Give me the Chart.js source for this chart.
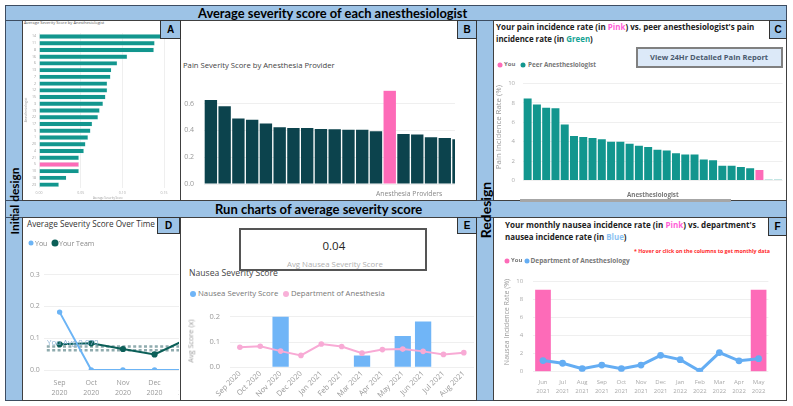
<!DOCTYPE html>
<html>
<head>
<meta charset="utf-8">
<script src="https://cdn.jsdelivr.net/npm/chart.js@4.4.1/dist/chart.umd.min.js"></script>
<style>
  html, body { margin: 0; padding: 0; background: #fff; }
  body { width: 793px; height: 406px; position: relative; overflow: hidden; font-family: 'Open Sans', sans-serif; }
  .box { position: absolute; box-sizing: border-box; }
  .band { background: #9dc3e6; border: 1px solid #3d4d62; }
  .panel { background: #fff; border: 1px solid #404040; }
  .tag { position: absolute; box-sizing: border-box; background: #9dc3e6; border: 1px solid #333; font: bold 10px 'Liberation Sans', Arial, sans-serif; display: flex; align-items: center; justify-content: center; z-index: 5; }
  .t { position: absolute; white-space: nowrap; line-height: 1; transform: translateY(-50%); z-index: 4; }
  .rot { position: absolute; white-space: nowrap; line-height: 1; transform: translate(-50%, -50%) rotate(-90deg); z-index: 4; }
  .dot { position: absolute; border-radius: 50%; transform: translate(-50%, -50%); }
  canvas { position: absolute; }
  .clip { position: absolute; overflow: hidden; }
</style>
</head>
<body>

<!-- frame -->
<div class="box band" style="left:5px;top:5px;width:782px;height:16px;"></div>
<div class="box band" style="left:5px;top:20px;width:18px;height:381px;"></div>
<div class="box band" style="left:476px;top:20px;width:18px;height:381px;"></div>
<div class="box band" style="left:5px;top:200px;width:782px;height:18px;"></div>

<div class="box panel" style="left:22px;top:20px;width:159px;height:181px;"></div>
<div class="box panel" style="left:180px;top:20px;width:297px;height:181px;"></div>
<div class="box panel" style="left:493px;top:20px;width:294px;height:181px;"></div>
<div class="box panel" style="left:22px;top:217px;width:159px;height:184px;"></div>
<div class="box panel" style="left:180px;top:217px;width:297px;height:184px;"></div>
<div class="box panel" style="left:493px;top:217px;width:294px;height:184px;"></div>

<div class="t" style="left:198px;top:13px;font:bold 15px Lato;" data-w="270">Average severity score of each anesthesiologist</div>
<div class="t" style="left:215px;top:209px;font:bold 15px Lato;" data-w="207">Run charts of average severity score</div>
<div class="rot" style="left:13.5px;top:201px;font:bold 14px Lato;" data-w="67">Initial design</div>
<div class="rot" style="left:485px;top:210px;font:bold 14px Lato;" data-w="56">Redesign</div>

<div class="tag" style="left:160px;top:20px;width:21px;height:19px;">A</div>
<div class="tag" style="left:457px;top:20px;width:20px;height:19px;">B</div>
<div class="tag" style="left:769px;top:20px;width:18px;height:19px;">C</div>
<div class="tag" style="left:157px;top:217px;width:23px;height:17px;">D</div>
<div class="tag" style="left:457px;top:217px;width:20px;height:17px;">E</div>
<div class="tag" style="left:768px;top:217px;width:19px;height:19px;">F</div>

<!-- panel A -->
<div class="t" style="left:24px;top:23px;font-size:4px;color:#555;" data-w="80">Average Severity Score by Anesthesiologist</div>
<div class="rot" style="left:27px;top:110px;font-size:3.5px;color:#999;" data-w="25">Anesthesiologist</div>
<div class="t" style="left:93px;top:197.5px;font-size:3.5px;color:#999;" data-w="30">Average Severity Score</div>
<canvas id="chartA" width="156" height="172" style="left:22px;top:28px;"></canvas>

<!-- panel B -->
<div class="t" style="left:183px;top:66px;font-size:9px;color:#444;" data-w="152">Pain Severity Score by Anesthesia Provider</div>
<div class="clip" style="left:182px;top:76px;width:273px;height:124px;">
  <canvas id="chartB" width="284" height="124" style="left:0;top:0;"></canvas>
</div>
<div class="t" style="left:376px;top:194px;font-size:7px;color:#888;" data-w="66">Anesthesia Providers</div>

<!-- panel C -->
<div class="t" style="left:496px;top:27px;font-size:10px;font-weight:700;color:#222;" data-w="259">Your pain incidence rate (in <span style="color:#ff5fd8">Pink</span>) vs. peer anesthesiologist's pain</div>
<div class="t" style="left:496px;top:39.5px;font-size:10px;font-weight:700;color:#222;" data-w="97">incidence rate (in <span style="color:#17a394">Green</span>)</div>
<div class="box" style="left:636px;top:47px;width:147px;height:21px;background:#dce9f8;border:2px solid #808080;z-index:3;"></div>
<div class="t" style="left:650px;top:57.5px;font-size:9px;font-weight:700;color:#4a5a6e;" data-w="118">View 24Hr Detailed Pain Report</div>
<div class="dot" style="left:500px;top:65px;width:5px;height:5px;background:#fd6bb8;"></div>
<div class="t" style="left:504px;top:65px;font-size:6.5px;font-weight:700;color:#777;" data-w="11">You</div>
<div class="dot" style="left:523px;top:65px;width:5px;height:5px;background:#12968e;"></div>
<div class="t" style="left:528px;top:65px;font-size:6.5px;font-weight:700;color:#777;" data-w="68">Peer Anesthesiologist</div>
<div class="rot" style="left:499px;top:127px;font-size:6px;color:#999;" data-w="85">Pain Incidence Rate (%)</div>
<canvas id="chartC" width="290" height="120" style="left:495px;top:72px;"></canvas>
<div class="t" style="left:627px;top:195px;font-size:6.5px;font-weight:700;color:#777;" data-w="52">Anesthesiologist</div>
<div class="box" style="left:520px;top:199px;width:211px;height:3px;background:#a6a6a6;z-index:3;"></div>

<!-- panel D -->
<div class="t" style="left:27px;top:224px;font-size:8px;color:#333;" data-w="128">Average Severity Score Over Time</div>
<div class="dot" style="left:31px;top:243px;width:5px;height:5px;background:#6cb4f5;"></div>
<div class="t" style="left:35px;top:243px;font-size:7px;color:#888;" data-w="12">You</div>
<div class="dot" style="left:55px;top:243px;width:7px;height:7px;background:#0b5f58;"></div>
<div class="t" style="left:59px;top:243px;font-size:7px;color:#888;" data-w="35">Your Team</div>
<div class="clip" style="left:23px;top:250px;width:156px;height:150px;">
  <canvas id="chartD" width="183" height="150" style="left:0;top:0;"></canvas>
</div>
<div class="t" style="left:47px;top:343px;font-size:7px;color:#8db3d6;" data-w="52">You Avg 0.070</div>

<!-- panel E -->
<div class="t" style="left:189px;top:273px;font-size:9px;color:#444;" data-w="89">Nausea Severity Score</div>
<div class="box" style="left:239px;top:228px;width:188px;height:43px;border:2px solid #555;background:#fff;z-index:5;"></div>
<div class="t" style="left:322.5px;top:246px;font-size:14px;color:#252423;z-index:6;" data-w="23">0.04</div>
<div class="t" style="left:287px;top:265px;font-size:7.5px;color:#b0b0b0;z-index:6;" data-w="96">Avg Nausea Severity Score</div>
<div class="dot" style="left:193px;top:294px;width:6px;height:6px;background:#70b5f7;"></div>
<div class="t" style="left:198px;top:294px;font-size:7.5px;color:#777;" data-w="80">Nausea Severity Score</div>
<div class="dot" style="left:286px;top:294px;width:6px;height:6px;background:#f8b0d8;"></div>
<div class="t" style="left:291px;top:294px;font-size:7.5px;color:#777;" data-w="94">Department of Anesthesia</div>
<div class="rot" style="left:191px;top:341px;font-size:7px;color:#999;" data-w="43">Avg Score (x)</div>
<canvas id="chartE" width="296" height="100" style="left:182px;top:300px;"></canvas>

<!-- panel F -->
<div class="t" style="left:505px;top:225px;font-size:10px;font-weight:700;color:#222;" data-w="251">Your monthly nausea incidence rate (in <span style="color:#ff5fd8">Pink</span>) vs. department's</div>
<div class="t" style="left:505px;top:237.5px;font-size:10px;font-weight:700;color:#222;" data-w="122">nausea incidence rate (in <span style="color:#8cc2f2">Blue</span>)</div>
<div class="t" style="left:634px;top:252px;font-size:5px;font-weight:700;color:#ff2a2a;" data-w="136">* Hover or click on the columns to get monthly data</div>
<div class="dot" style="left:507px;top:261px;width:5px;height:5px;background:#fd6bb8;"></div>
<div class="t" style="left:511px;top:261px;font-size:6.5px;font-weight:700;color:#777;" data-w="11">You</div>
<div class="dot" style="left:527px;top:261px;width:5px;height:5px;background:#64adf3;"></div>
<div class="t" style="left:530.5px;top:261px;font-size:6.5px;font-weight:700;color:#777;" data-w="99">Department of Anesthesiology</div>
<div class="rot" style="left:507px;top:322px;font-size:6px;color:#999;" data-w="87">Nausea Incidence Rate (%)</div>
<canvas id="chartF" width="290" height="132" style="left:495px;top:268px;"></canvas>

<script>
// ---------------------------------------------------------------
// DATA
// ---------------------------------------------------------------

// A: average severity score by anesthesiologist (initial design)
const aIds = ['14', '11', '8', '16', '6', '13', '7', '2', '12', '15', '3', '19', '22', '17', '9', '1', '20', '4', '21', '5', '10', '18', '23'];
const aScores = [0.162, 0.139, 0.138, 0.106, 0.094, 0.087, 0.086, 0.082, 0.082, 0.080, 0.077, 0.073, 0.071, 0.064, 0.062, 0.059, 0.056, 0.054, 0.048, 0.048, 0.048, 0.033, 0.024];
const aYouId = '5';
const aTicks = [0, 0.05, 0.10, 0.15];

// B: pain severity score by anesthesia provider
const bProviders = ['P1', 'P2', 'P3', 'P4', 'P5', 'P6', 'P7', 'P8', 'P9', 'P10', 'P11', 'P12', 'P13', 'You', 'P15', 'P16', 'P17', 'P18', 'P19'];
const bScores = [0.627, 0.58, 0.489, 0.48, 0.452, 0.423, 0.418, 0.418, 0.411, 0.409, 0.405, 0.405, 0.393, 0.695, 0.373, 0.37, 0.348, 0.343, 0.334];

// C: pain incidence rate (%) per anesthesiologist
const cAnesthesiologists = ['A1', 'A2', 'A3', 'A4', 'A5', 'A6', 'A7', 'A8', 'A9', 'A10', 'A11', 'A12', 'A13', 'A14',
  'A15', 'A16', 'A17', 'A18', 'A19', 'A20', 'A21', 'A22', 'A23', 'A24', 'A25', 'You', 'A27', 'A28'];
const cRates = [8.46, 7.85, 7.5, 7.45, 5.78, 4.58, 4.49, 4.37, 4.25, 4.0, 4.0, 3.78, 3.57, 3.45,
  3.17, 3.08, 2.8, 2.68, 2.68, 2.15, 2.09, 1.51, 1.51, 1.38, 1.26, 1.08, 0.06, 0.06];

// D: average severity score over time
const dMonths = [['Sep', '2020'], ['Oct', '2020'], ['Nov', '2020'], ['Dec', '2020'], ['Jan', '2021']];
const dYou = [0.182, 0, 0, 0, 0];
const dTeam = [0.081, 0.084, 0.066, 0.049, 0.096];
const dAvgLevels = [0.074, 0.062];

// E: nausea severity score
const eMonths = ['Sep 2020', 'Oct 2020', 'Nov 2020', 'Dec 2020', 'Jan 2021', 'Feb 2021', 'Mar 2021', 'Apr 2021', 'May 2021', 'Jun 2021', 'Jul 2021', 'Aug 2021'];
const eYou = [null, null, 0.2, null, null, null, 0.047, null, 0.124, 0.181, null, null];
const eDept = [0.079, 0.083, 0.064, 0.047, 0.092, 0.082, 0.056, 0.070, 0.072, 0.063, 0.051, 0.058];

// F: monthly nausea incidence rate (%)
const fMonths = [['Jun', '2021'], ['Jul', '2021'], ['Aug', '2021'], ['Sep', '2021'], ['Oct', '2021'], ['Nov', '2021'],
  ['Dec', '2021'], ['Jan', '2022'], ['Feb', '2022'], ['Mar', '2022'], ['Apr', '2022'], ['May', '2022']];
const fYou = [9.1, null, null, null, null, null, null, null, null, null, null, 9.1];
const fDept = [1.24, 0.94, 0.34, 0.74, 0.34, 0.74, 1.82, 1.34, 0.07, 2.12, 1.21, 1.45];

// ---------------------------------------------------------------
// COLOURS
// ---------------------------------------------------------------
const TEAL = '#12968e';
const DARK_TEAL = '#0c434d';
const PINK = '#fd6bb8';
const LIGHT_BLUE = '#6cb4f5';
const GRID = '#efefef';

// fit the html labels to the widths measured on the reference
function fitText() {
  document.querySelectorAll('[data-w]').forEach(el => {
    const target = parseFloat(el.dataset.w);
    const fs = parseFloat(getComputedStyle(el).fontSize);
    el.style.fontSize = (fs * target / el.offsetWidth) + 'px';
  });
}
fitText();

Chart.defaults.font.family = "'Open Sans', sans-serif";
Chart.defaults.animation = false;
Chart.defaults.responsive = false;
Chart.defaults.devicePixelRatio = 1;
Chart.defaults.plugins.legend.display = false;
Chart.defaults.plugins.tooltip.enabled = false;

const fixW = w => scale => { scale.width = w; };
const fixH = h => scale => { scale.height = h; };
const noGrid = { display: false, drawTicks: false };

// A: horizontal bars
new Chart(document.getElementById('chartA'), {
  type: 'bar',
  data: {
    labels: aIds,
    datasets: [{
      data: aScores,
      backgroundColor: aIds.map(id => id === aYouId ? PINK : TEAL),
      borderColor: '#d8f0ee',
      borderWidth: 0.5,
      barPercentage: 0.73,
      categoryPercentage: 1
    }]
  },
  options: {
    indexAxis: 'y',
    layout: { padding: { top: 4.7, right: 1.5, left: 0, bottom: 0 } },
    scales: {
      x: {
        min: 0, max: 0.165,
        afterBuildTicks: axis => { axis.ticks = aTicks.map(v => ({ value: v })); },
        afterFit: fixH(12),
        grid: { color: GRID, drawTicks: false },
        border: { display: false },
        ticks: { font: { size: 3.5 }, color: '#aaa', padding: 3, callback: v => v.toFixed(2) }
      },
      y: {
        afterFit: fixW(17),
        grid: noGrid,
        border: { display: false },
        ticks: { font: { size: 3.5 }, color: '#999', padding: 3, autoSkip: false }
      }
    }
  }
});

// B: dark columns, clipped on the right like the scrolled visual
new Chart(document.getElementById('chartB'), {
  type: 'bar',
  data: {
    labels: bProviders,
    datasets: [{
      data: bScores,
      backgroundColor: bProviders.map(p => p === 'You' ? PINK : DARK_TEAL),
      barPercentage: 0.9,
      categoryPercentage: 1
    }]
  },
  options: {
    layout: { padding: { top: 4, right: 0.6, left: 0, bottom: 0 } },
    scales: {
      x: {
        afterFit: fixH(16),
        grid: noGrid,
        border: { display: false },
        ticks: { display: false }
      },
      y: {
        min: 0, max: 0.7,
        afterFit: fixW(22),
        grid: { color: GRID, drawTicks: false },
        border: { display: false },
        ticks: { stepSize: 0.2, includeBounds: false, font: { size: 7 }, color: '#999', padding: 10, callback: v => v.toFixed(1) }
      }
    }
  }
});

// C: peer comparison columns
new Chart(document.getElementById('chartC'), {
  type: 'bar',
  data: {
    labels: cAnesthesiologists,
    datasets: [{
      data: cRates,
      backgroundColor: cAnesthesiologists.map(a => a === 'You' ? PINK : TEAL),
      barPercentage: 0.86,
      categoryPercentage: 1
    }]
  },
  options: {
    layout: { padding: { top: 4.7, right: 2.4, left: 0, bottom: 0 } },
    scales: {
      x: {
        afterFit: fixH(7),
        grid: noGrid,
        border: { display: false },
        ticks: { display: false }
      },
      y: {
        min: 0, max: 10,
        afterFit: fixW(28),
        grid: { color: GRID, drawTicks: false },
        border: { display: false },
        ticks: { stepSize: 2, font: { size: 6 }, color: '#aaa', padding: 8 }
      }
    }
  }
});

// D: you vs team over time, with the dotted average lines
const avgLinesPlugin = {
  id: 'avgLines',
  beforeDatasetsDraw(chart) {
    const { ctx, chartArea, scales } = chart;
    ctx.save();
    ctx.strokeStyle = 'rgba(95,135,140,0.7)';
    ctx.lineWidth = 2.6;
    ctx.setLineDash([3, 2.4]);
    dAvgLevels.forEach(v => {
      const y = scales.y.getPixelForValue(v);
      ctx.beginPath();
      ctx.moveTo(chartArea.left + 3, y);
      ctx.lineTo(chartArea.right, y);
      ctx.stroke();
    });
    ctx.restore();
  }
};

new Chart(document.getElementById('chartD'), {
  type: 'line',
  data: {
    labels: dMonths,
    datasets: [
      { data: dYou, borderColor: LIGHT_BLUE, backgroundColor: LIGHT_BLUE, borderWidth: 2, pointRadius: 2.7, pointBorderWidth: 0 },
      { data: dTeam, borderColor: '#0b5f58', backgroundColor: '#0b5f58', borderWidth: 2, pointRadius: 3.1, pointBorderWidth: 0 }
    ]
  },
  options: {
    layout: { padding: { top: 8.7, right: 0, left: 0, bottom: 0 } },
    scales: {
      x: {
        offset: true,
        afterFit: fixH(30),
        grid: noGrid,
        border: { display: false },
        ticks: { font: { size: 7, lineHeight: 1.4 }, color: '#999', padding: 8, maxRotation: 0 }
      },
      y: {
        min: 0, max: 0.35,
        afterFit: fixW(20.8),
        grid: { color: GRID, drawTicks: false },
        border: { display: false },
        ticks: { stepSize: 0.1, includeBounds: false, font: { size: 7 }, color: '#999', padding: 4, callback: v => v.toFixed(1) }
      }
    }
  },
  plugins: [avgLinesPlugin]
});

// E: nausea severity columns and department line
new Chart(document.getElementById('chartE'), {
  type: 'bar',
  data: {
    labels: eMonths,
    datasets: [
      { type: 'line', data: eDept, borderColor: '#f8aad5', backgroundColor: '#f8aad5', borderWidth: 2, pointRadius: 2.8, pointBorderWidth: 0, order: 0 },
      { data: eYou, backgroundColor: '#70b5f7', barPercentage: 0.8, categoryPercentage: 1, order: 1 }
    ]
  },
  options: {
    layout: { padding: { top: 8.1, right: 1, left: 0, bottom: 0 } },
    scales: {
      x: {
        afterFit: fixH(32.7),
        grid: noGrid,
        border: { display: false },
        ticks: { font: { size: 7.5 }, color: '#999', padding: 2, minRotation: 45, maxRotation: 45, autoSkip: false }
      },
      y: {
        min: 0, max: 0.21,
        afterFit: fixW(47.7),
        grid: { color: GRID, drawTicks: false },
        border: { display: false },
        ticks: { stepSize: 0.1, includeBounds: false, font: { size: 7.5 }, color: '#999', padding: 9.7, callback: v => v.toFixed(1) }
      }
    }
  }
});

// F: monthly nausea incidence, you vs department
new Chart(document.getElementById('chartF'), {
  type: 'bar',
  data: {
    labels: fMonths,
    datasets: [
      { type: 'line', data: fDept, borderColor: '#64adf3', backgroundColor: '#64adf3', borderWidth: 3, pointRadius: 3.4, pointBorderWidth: 0, order: 0 },
      { data: fYou, backgroundColor: PINK, barPercentage: 0.8, categoryPercentage: 1, order: 1 }
    ]
  },
  options: {
    layout: { padding: { top: 4.7, right: 16.6, left: 0, bottom: 0 } },
    scales: {
      x: {
        afterFit: fixH(28.3),
        grid: noGrid,
        border: { display: false },
        ticks: { font: { size: 6, lineHeight: 1.5 }, color: '#aaa', padding: 6, maxRotation: 0, autoSkip: false }
      },
      y: {
        min: 0, max: 10,
        afterFit: fixW(38.2),
        grid: { color: GRID, drawTicks: false },
        border: { display: false },
        ticks: { stepSize: 2, font: { size: 6 }, color: '#aaa', padding: 10 }
      }
    }
  }
});
</script>
</body>
</html>
